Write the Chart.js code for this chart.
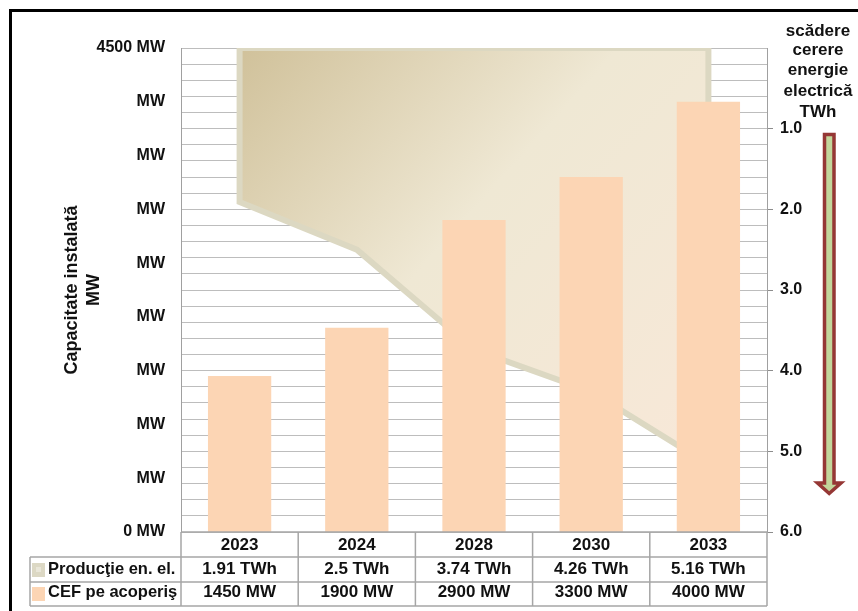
<!DOCTYPE html>
<html><head><meta charset="utf-8">
<script src="https://cdn.jsdelivr.net/npm/chart.js@4/dist/chart.umd.min.js"></script>
<style>html,body{margin:0;padding:0;background:#fff;}canvas{display:block}</style>
</head><body>
<canvas id="c" width="858" height="611"></canvas>
<script>
const categories = ['2023', '2024', '2028', '2030', '2033'];
const productionTWh = [1.91, 2.5, 3.74, 4.26, 5.16];
const cefMW = [1450, 1900, 2900, 3300, 4000];
const rowLabels = ['Producţie en. el.', 'CEF pe acoperiş'];
const leftTitle = ['Capacitate instalată', 'MW'];
const rightTitle = ['scădere', 'cerere', 'energie', 'electrică', 'TWh'];

const FONT = "'Liberation Sans', Arial, sans-serif";
Chart.defaults.font.family = FONT;
const isInt = v => Math.abs(v - Math.round(v)) < 1e-6;

const decor = {
  id: 'decor',
  afterDatasetDraw(chart, args) {
    if (args.index !== 1) return;
    const ctx = chart.ctx, ca = chart.chartArea;
    const pts = chart.getDatasetMeta(1).data;
    const top = chart.scales.y2.getPixelForValue(0);
    ctx.save();
    ctx.beginPath(); ctx.rect(ca.left, ca.top, ca.right - ca.left, ca.bottom - ca.top); ctx.clip();
    ctx.beginPath();
    ctx.moveTo(pts[0].x, top);
    pts.forEach(p => ctx.lineTo(p.x, p.y));
    ctx.lineTo(pts[pts.length - 1].x, top);
    ctx.closePath();
    ctx.lineWidth = 6; ctx.strokeStyle = '#dcd8c2'; ctx.lineJoin = 'miter';
    ctx.stroke();
    ctx.restore();
  },
  afterDraw(chart) {
    const ctx = chart.ctx, ca = chart.chartArea, xs = chart.scales.x;
    const n = categories.length, cw = (ca.right - ca.left) / n;
    const rowY = [ca.bottom, 557, 582, 606];
    ctx.save();
    // table lines
    ctx.strokeStyle = '#a6a6a6'; ctx.lineWidth = 1.5;
    ctx.beginPath();
    ctx.moveTo(ca.left, rowY[0]); ctx.lineTo(ca.right, rowY[0]);
    for (let r = 1; r < 4; r++) { ctx.moveTo(30, rowY[r]); ctx.lineTo(ca.right, rowY[r]); }
    for (let i = 0; i <= n; i++) { const xb = ca.left + i * cw; ctx.moveTo(xb, rowY[0]); ctx.lineTo(xb, rowY[3]); }
    ctx.moveTo(30, rowY[1]); ctx.lineTo(30, rowY[3]);
    ctx.stroke();
    // texts
    ctx.fillStyle = '#111'; ctx.font = 'bold 17px ' + FONT;
    ctx.textAlign = 'center'; ctx.textBaseline = 'middle';
    categories.forEach((c, i) => {
      const cx = xs.getPixelForValue(i);
      ctx.fillText(c, cx, 545);
      ctx.fillText(productionTWh[i] + ' TWh', cx, 569);
      ctx.fillText(cefMW[i] + ' MW', cx, 592);
    });
    ctx.font = 'bold 16.5px ' + FONT;
    ctx.textAlign = 'left';
    ctx.fillText(rowLabels[0], 48, 569);
    ctx.fillText(rowLabels[1], 48, 592);
    // swatches
    ctx.fillStyle = '#dcd8c4'; ctx.fillRect(32, 563, 13, 14);
    ctx.fillStyle = '#e9e6d8'; ctx.fillRect(36, 567, 5, 5);
    ctx.fillStyle = '#fcd5b4'; ctx.fillRect(32, 587, 13, 14);
    // right title
    ctx.fillStyle = '#111'; ctx.font = 'bold 17px ' + FONT; ctx.textAlign = 'center';
    const ty = [31, 50, 70, 91, 112];
    rightTitle.forEach((t, i) => ctx.fillText(t, 818, ty[i]));
    // arrow
    ctx.beginPath();
    ctx.moveTo(824.5, 134.5); ctx.lineTo(834, 134.5); ctx.lineTo(834, 483);
    ctx.lineTo(841, 483); ctx.lineTo(829.2, 493.5); ctx.lineTo(817.5, 483);
    ctx.lineTo(824.5, 483); ctx.closePath();
    ctx.fillStyle = '#c3d69b'; ctx.fill();
    ctx.lineWidth = 3.5; ctx.strokeStyle = '#953735'; ctx.lineJoin = 'miter'; ctx.stroke();
    // outer frame
    ctx.fillStyle = '#000';
    ctx.fillRect(9, 9, 849, 3);
    ctx.fillRect(9, 9, 3, 602);
    ctx.restore();
  }
};

new Chart(document.getElementById('c'), {
  type: 'bar',
  data: {
    labels: categories,
    datasets: [
      {
        type: 'bar', label: 'CEF pe acoperiş', data: cefMW, yAxisID: 'y', order: 1,
        backgroundColor: '#fcd5b4', borderWidth: 0, barPercentage: 0.54, categoryPercentage: 1.0
      },
      {
        type: 'line', label: 'Producţie en. el.', data: productionTWh, yAxisID: 'y2', order: 2,
        fill: { value: 0 }, borderWidth: 0, pointRadius: 0, tension: 0,
        backgroundColor: (c) => {
          const ch = c.chart, ca = ch.chartArea;
          if (!ca) return '#efe8d4';
          const g = ch.ctx.createLinearGradient(ca.left + 58, ca.top, ca.left + 525, ca.top + 420);
          g.addColorStop(0, '#d0c19a');
          g.addColorStop(0.45, '#efe8d4');
          g.addColorStop(1, '#f8e8d8');
          return g;
        }
      }
    ]
  },
  options: {
    responsive: false, animation: false, devicePixelRatio: 1,
    layout: { padding: { top: 48, bottom: 79, left: 0, right: 0 } },
    plugins: { legend: { display: false }, tooltip: { enabled: false } },
    scales: {
      x: { display: false, offset: true },
      y: {
        position: 'left', min: 0, max: 4500,
        ticks: { stepSize: 500, padding: 16, color: '#111', font: { size: 16, weight: 'bold' },
          callback: v => (v === 4500 || v === 0) ? v + ' MW' : 'MW' },
        grid: { display: false, drawTicks: false },
        border: { display: true, color: '#a0a0a0', width: 1 },
        title: { display: true, text: leftTitle, color: '#111', font: { size: 18, weight: 'bold', lineHeight: 1.17 }, padding: { top: 62, bottom: 0 } },
        afterFit: s => { s.width = 181; }
      },
      y2: {
        position: 'right', min: 0, max: 6, reverse: true,
        ticks: { stepSize: 0.2, autoSkip: false, padding: 7, color: '#111', font: { size: 16, weight: 'bold' },
          callback: v => (isInt(v) && v > 0.5) ? v.toFixed(1) : '' },
        grid: { color: '#bdbdbd', lineWidth: 1, drawTicks: true, tickLength: 6,
          tickColor: c => (c.tick && isInt(c.tick.value) && c.tick.value > 0.5) ? '#8c8c8c' : 'rgba(0,0,0,0)' },
        border: { display: true, color: '#a0a0a0', width: 1 },
        afterFit: s => { s.width = 91; }
      }
    }
  },
  plugins: [decor]
});
</script>
</body></html>
